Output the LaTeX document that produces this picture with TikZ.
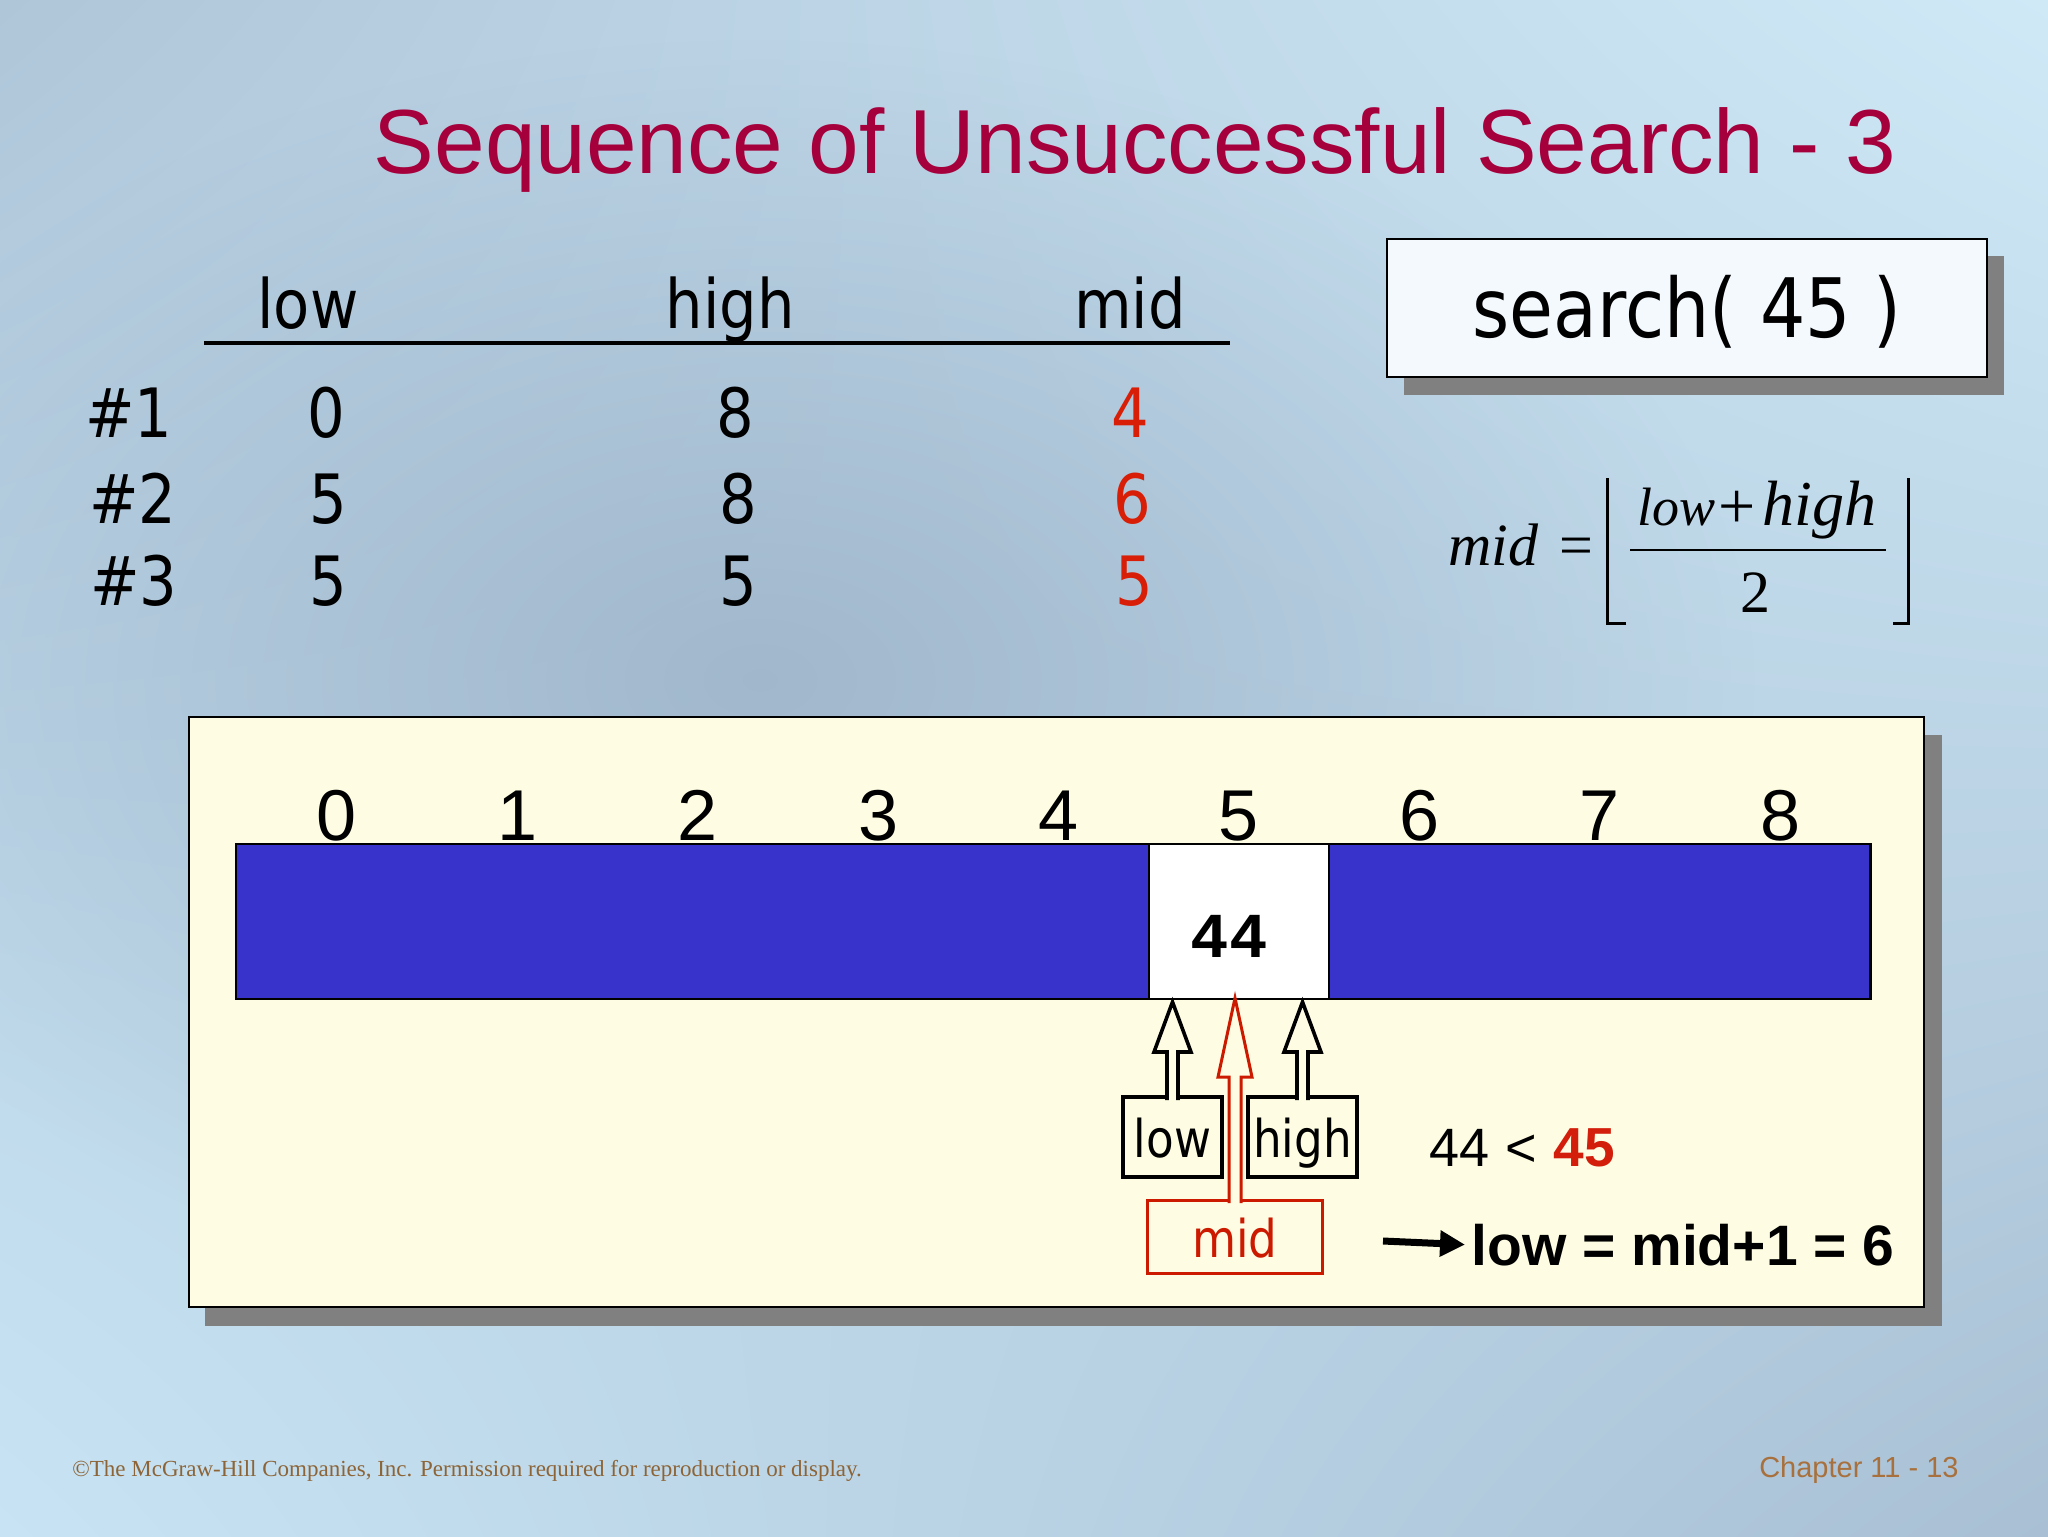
\documentclass[tikz,border=0pt]{standalone}
\usepackage{fontspec}
\setmainfont{Liberation Sans}
\newfontfamily\tah[FakeStretch=0.87]{DejaVu Sans}
\newfontfamily\serifr{Liberation Serif}
\newfontfamily\monob{Liberation Mono}
\usetikzlibrary{calc,arrows.meta,fadings,shadings}
\tikzfading[name=softblob, inner color=transparent!0, outer color=transparent!100]
\definecolor{bgUL}{HTML}{AFC6D9}
\definecolor{bgUR}{HTML}{CFE9F7}
\definecolor{bgLL}{HTML}{C8E4F4}
\definecolor{bgLR}{HTML}{A9C0D4}
\definecolor{bgdark}{HTML}{98AEC4}
\definecolor{titlered}{HTML}{A6003C}
\definecolor{tabred}{HTML}{D81E06}
\definecolor{midred}{HTML}{CC1A00}
\definecolor{boldred}{HTML}{D21E0A}
\definecolor{arrblue}{HTML}{3833CA}
\definecolor{cream}{HTML}{FEFDE3}
\definecolor{shadowgray}{HTML}{808080}
\definecolor{searchfill}{HTML}{F4F9FE}
\definecolor{footbrown}{HTML}{8C6437}
\definecolor{chapbrown}{HTML}{A8703C}
\newcommand\setfs[1]{\fontsize{#1}{#1}\selectfont}
\begin{document}
\begin{tikzpicture}[x=0.5pt,y=-0.5pt,
  hdr/.style={anchor=base, inner sep=0, font=\tah\setfs{34}},
  rowtxt/.style={anchor=base, inner sep=0, font=\tah\setfs{34}},
  cell/.style={minimum width=90.28pt, minimum height=77.5pt, inner sep=0, outer sep=0, draw=none},
  idxlbl/.style={anchor=base, inner sep=0, font=\setfs{36}},
  lblbox/.style={draw=black, line width=1.8pt, fill=cream, inner sep=0, outer sep=0, font=\tah\setfs{26}, text height=20pt, text depth=0pt},
  midlbl/.style={draw=midred, text=midred, line width=1.5pt, fill=cream, inner sep=0, outer sep=0, font=\tah\setfs{26}, text height=20.5pt, text depth=0pt},
  blkarrow/.style={draw=black, line width=1.8pt, fill=cream, line join=miter},
  redarrow/.style={draw=midred, line width=1.5pt, fill=cream, line join=miter},
  fnode/.style={anchor=base west, inner sep=0, font=\serifr\setfs{30}}
]
\useasboundingbox (0,0) rectangle (2048,1536);
% background
\shade[upper left=bgUL, upper right=bgUR, lower left=bgLL, lower right=bgLR] (0,0) rectangle (2048,1536);
\fill[bgdark, path fading=softblob, opacity=0.75] (760,680) ellipse [x radius=1000, y radius=640];

% title
\node[anchor=base, inner sep=0, font=\setfs{45.5}, text=titlered] (title) at (1135,173) {Sequence of Unsuccessful Search - 3};

% table
\node[hdr] (hlow) at (308,328) {low};
\node[hdr] (hhigh) at (730,328) {high};
\node[hdr] (hmid) at (1130,328) {mid};
\draw[line width=2pt] (204,343) -- (1230,343);

\node[rowtxt] (r1) at (129,437) {\#1};
\node[rowtxt] (r2) at (133,523) {\#2};
\node[rowtxt] (r3) at (134,605) {\#3};
\node[rowtxt] (r1a) at (326,437) {0};
\node[rowtxt] (r2a) at (328,523) {5};
\node[rowtxt] (r3a) at (328,605) {5};
\node[rowtxt] (r1b) at (735,437) {8};
\node[rowtxt] (r2b) at (738,523) {8};
\node[rowtxt] (r3b) at (738,605) {5};
\node[rowtxt, text=tabred] (r1c) at (1130,437) {4};
\node[rowtxt, text=tabred] (r2c) at (1132,523) {6};
\node[rowtxt, text=tabred] (r3c) at (1134,605) {5};

% search box
\fill[shadowgray] (1404,256) rectangle (2004,395);
\node[draw=black, line width=1pt, fill=searchfill, minimum width=300pt, minimum height=69pt, inner sep=0, outer sep=0,
      font=\tah\setfs{41}, text height=29.5pt, text depth=0pt] (search) at (1687,308) {search( 45 )\hspace{24pt}};

% formula
\node[fnode] (fmid) at (1448,565) {\itshape mid};
\node[fnode] (feq) at (1559,565) {=};
\node[fnode, font=\serifr\setfs{27}] (flow) at (1637,525) {\itshape low};
\node[anchor=base, inner sep=0, font=\serifr\setfs{33}] (fplus) at (1737,528) {+};
\node[fnode, font=\serifr\setfs{32}] (fhigh) at (1762,525) {\itshape high};
\node[anchor=base, inner sep=0, font=\serifr\setfs{30}] (ftwo) at (1755,612) {2};
\draw[line width=1pt] (1630,550) -- (1886,550);
\draw[line width=1.5pt] (1626,623) -- (1607,623) -- (1607,478);
\draw[line width=1.5pt] (1893,623) -- (1908,623) -- (1908,478);

% panel
\fill[shadowgray] (205,735) rectangle (1942,1326);
\draw[line width=1pt, fill=cream] (189,717) rectangle (1924,1307);

% array
\fill[arrblue] (236,844) rectangle (260,999);
\foreach \i/\col in {0/arrblue,1/arrblue,2/arrblue,3/arrblue,4/arrblue,5/white,6/arrblue,7/arrblue,8/arrblue}{
  \node[cell, fill=\col] (c\i) at ({337+180.4*\i},921.5) {};
  \node[idxlbl] (i\i) at ($(c\i.north)+(0,-4)$) {\i};
}
\draw[line width=1.2pt] (236,844) rectangle (c8.south east);
\draw[line width=1pt] (c5.north west) rectangle (c5.south east);
\node[anchor=base, inner sep=0, font=\monob\bfseries\setfs{32}] (v5) at ($(c5.center)+(-10,35.5)$) {44};

% pointer boxes
\node[lblbox, minimum width=49.5pt, minimum height=40pt] (lowbox) at (1172.5,1137) {low};
\node[lblbox, minimum width=54.5pt, minimum height=40pt] (highbox) at (1302.5,1137) {high};
\node[midlbl, minimum width=87.5pt, minimum height=36.5pt] (midbox) at (1235,1236.5) {mid};

\coordinate (lowtip) at ($(lowbox.north |- c5.south)+(0,3)$);
\coordinate (hightip) at ($(highbox.north |- c5.south)+(0,3)$);
\coordinate (midtip) at ($(midbox.north |- c5.south)+(0,-1)$);

\draw[blkarrow] ($(lowbox.north)+(-5.5,3)$) -- ($(lowtip)+(-5.5,50)$) -- ($(lowtip)+(-18.5,50)$) -- (lowtip)
  -- ($(lowtip)+(18.5,50)$) -- ($(lowtip)+(5.5,50)$) -- ($(lowbox.north)+(5.5,3)$);
\draw[blkarrow] ($(highbox.north)+(-5.5,3)$) -- ($(hightip)+(-5.5,50)$) -- ($(hightip)+(-18.5,50)$) -- (hightip)
  -- ($(hightip)+(18.5,50)$) -- ($(hightip)+(5.5,50)$) -- ($(highbox.north)+(5.5,3)$);
\draw[redarrow] ($(midbox.north)+(-6,3)$) -- ($(midtip)+(-6,79)$) -- ($(midtip)+(-17,79)$) -- (midtip)
  -- ($(midtip)+(17,79)$) -- ($(midtip)+(6,79)$) -- ($(midbox.north)+(6,3)$);

% comparison and result
\node[anchor=base west, inner sep=0, font=\setfs{27}] (cmp) at (1429,1166) {44\hspace{0.3em}<\hspace{0.3em}\textcolor{boldred}{\bfseries\setfs{27.5}45}};
\node[anchor=base west, inner sep=0, font=\bfseries\setfs{28.5}] (res) at (1471,1265) {low = mid+1 = 6};
\coordinate (arrstart) at (1383,1241);
\draw[line width=3.5pt, -{Triangle[length=12.5pt,width=12.5pt]}] (arrstart) -- ($(res.west)+(-6,0)$);

% footer
\node[anchor=base west, inner sep=0, font=\serifr\setfs{11.5}, text=footbrown] (foot) at (72,1476) {©The McGraw-Hill Companies, Inc. Permission required for reproduction or display.};
\node[anchor=base east, inner sep=0, font=\setfs{14.5}, text=chapbrown] (chap) at (1959,1477) {Chapter 11 - 13};
\end{tikzpicture}
\end{document}
